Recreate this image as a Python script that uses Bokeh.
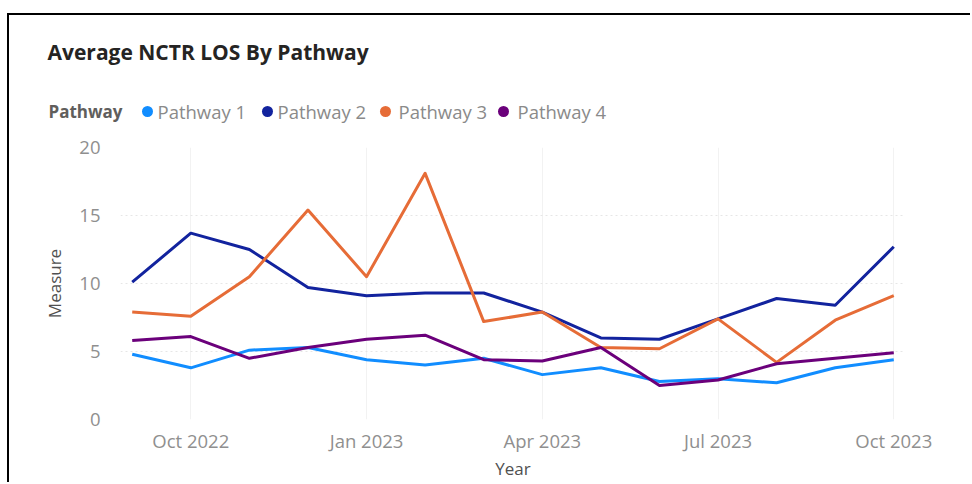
from bokeh.plotting import figure
from bokeh.models import Range1d, FixedTicker, ColumnDataSource
from bokeh.embed import file_html
from bokeh.resources import INLINE
from bokeh.core.properties import value

# ---- data ----
months = ["Sep 2022", "Oct 2022", "Nov 2022", "Dec 2022", "Jan 2023", "Feb 2023", "Mar 2023",
          "Apr 2023", "May 2023", "Jun 2023", "Jul 2023", "Aug 2023", "Sep 2023", "Oct 2023"]
pathways = ["Pathway 1", "Pathway 2", "Pathway 3", "Pathway 4"]
pathway_1 = [4.8, 3.8, 5.1, 5.3, 4.4, 4.0, 4.5, 3.3, 3.8, 2.8, 3.0, 2.7, 3.8, 4.4]
pathway_2 = [10.1, 13.7, 12.5, 9.7, 9.1, 9.3, 9.3, 7.9, 6.0, 5.9, 7.4, 8.9, 8.4, 12.7]
pathway_3 = [7.9, 7.6, 10.5, 15.4, 10.5, 18.1, 7.2, 7.9, 5.3, 5.2, 7.4, 4.2, 7.3, 9.1]
pathway_4 = [5.8, 6.1, 4.5, 5.3, 5.9, 6.2, 4.4, 4.3, 5.3, 2.5, 2.9, 4.1, 4.5, 4.9]
y_ticks = [0, 5, 10, 15, 20]
x_tick_months = ["Jan", "Apr", "Jul", "Oct"]
title_text = "Average NCTR LOS By Pathway"
legend_title = "Pathway"

colors = ["#118DFF", "#12239E", "#E66C37", "#6B007B"]
series = [pathway_1, pathway_2, pathway_3, pathway_4]

FONT = "Open Sans"
W = 963
HEAD_H = 120

# ---- header: title + legend (pixel-coordinate canvas, y downward) ----
head = figure(width=W, height=HEAD_H, output_backend="svg", toolbar_location=None,
              x_range=Range1d(0, W), y_range=Range1d(HEAD_H, 0),
              x_axis_type=None, y_axis_type=None,
              min_border=0, min_border_left=0, min_border_right=0,
              min_border_top=0, min_border_bottom=0)
head.outline_line_color = None
head.grid.visible = False
head.border_fill_color = "white"
head.styles = {"border-left": "2px solid #000", "border-top": "2px solid #000",
               "margin-left": "7px", "margin-top": "13px"}

head.text(x=[38], y=[36], text=[title_text], text_font=value(FONT), text_font_size="21px",
          text_font_style="bold", text_color="#252423", text_baseline="middle", text_align="left")
LEG_Y = 96
head.text(x=[39], y=[LEG_Y], text=[legend_title], text_font=value(FONT), text_font_size="17px",
          text_font_style="bold", text_color="#605E5C", text_baseline="middle", text_align="left")
dot_x = [138, 258, 376, 494]
txt_x = [148, 268, 389, 508]
head.scatter(x=dot_x, y=[LEG_Y] * 4, size=11, marker="circle", fill_color=colors,
             line_color=None)
head.text(x=txt_x, y=[LEG_Y] * 4, text=pathways, text_font=value(FONT),
          text_font_size="18.5px", text_color="#8a8a8a", text_baseline="middle", text_align="left")

# ---- main chart ----
x_idx = list(range(len(months)))
x_ticks = [i for i, m in enumerate(months) if m[:3] in x_tick_months]

p = figure(width=W, height=469 - HEAD_H, output_backend="svg", toolbar_location=None,
           x_range=Range1d(-0.2, len(months) - 0.8), y_range=Range1d(0, 20),
           min_border_left=111, min_border_right=67, min_border_top=14, min_border_bottom=62)
p.outline_line_color = None
p.background_fill_color = "white"
p.border_fill_color = "white"
p.styles = {"border-left": "2px solid #000", "margin-left": "7px"}

for name, vals, col in zip(pathways, series, colors):
    src = ColumnDataSource(dict(x=x_idx, y=vals, month=months))
    p.line("x", "y", source=src, line_color=col, line_width=3, line_join="round")

p.xaxis.ticker = FixedTicker(ticks=x_ticks)
p.xaxis.major_label_overrides = {i: months[i] for i in x_ticks}
p.yaxis.ticker = FixedTicker(ticks=y_ticks)
for ax in (p.xaxis[0], p.yaxis[0]):
    ax.axis_line_color = None
    ax.major_tick_line_color = None
    ax.minor_tick_line_color = None
    ax.major_tick_out = 0
    ax.major_tick_in = 0
    ax.major_label_text_font = FONT
    ax.major_label_text_font_size = "18.5px"
    ax.major_label_text_color = "#8f8f8f"
    ax.axis_label_text_font = FONT
    ax.axis_label_text_font_size = "17px"
    ax.axis_label_text_font_style = "normal"
    ax.axis_label_text_color = "#505050"
p.xaxis.axis_label = "Year"
p.xaxis.major_label_standoff = 8
p.xaxis.axis_label_standoff = 1
p.yaxis.axis_label = "Measure"
p.yaxis.major_label_standoff = 20
p.yaxis.axis_label_standoff = 10

p.ygrid.grid_line_color = "#e6e6e6"
p.ygrid.grid_line_dash = "2 3"
p.xgrid.grid_line_color = "#f2f2f2"
p.xgrid.ticker = FixedTicker(ticks=x_ticks)

open("out.html", "w").write(file_html([head, p], INLINE))
